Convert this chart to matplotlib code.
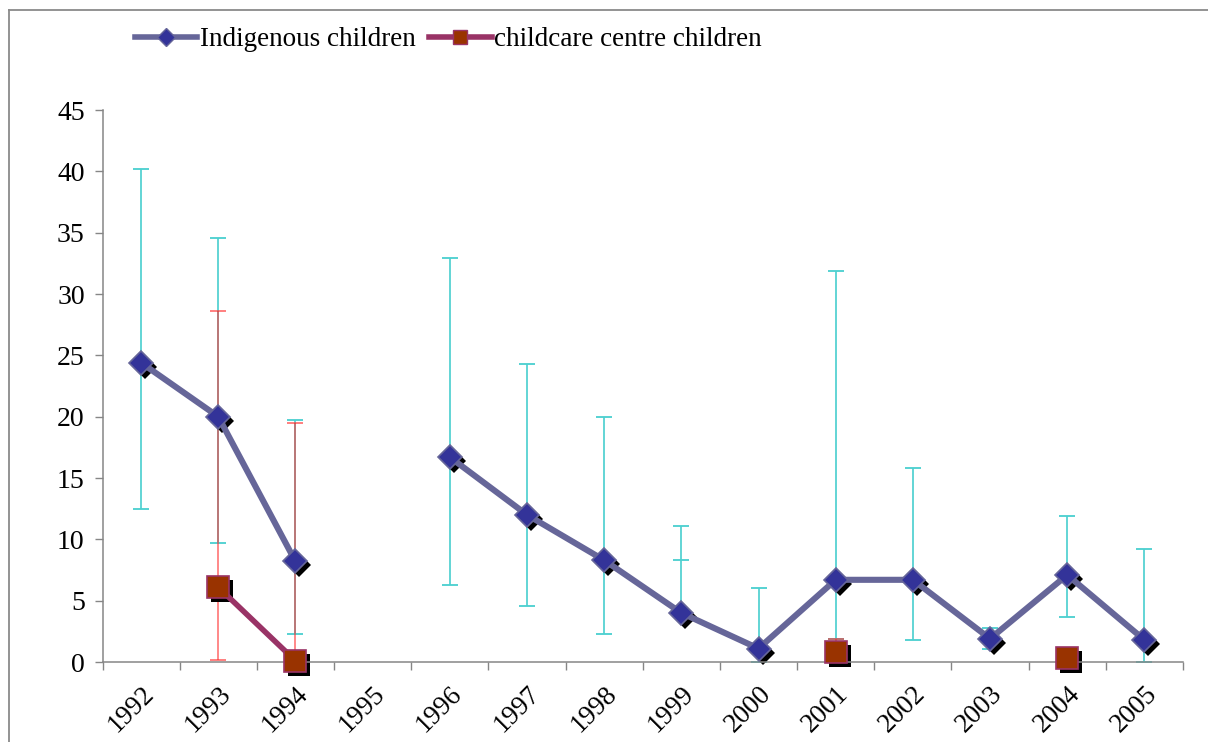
import numpy as np
import matplotlib
matplotlib.use("Agg")
import matplotlib.pyplot as plt
from matplotlib.lines import Line2D
from matplotlib.transforms import offset_copy

# ---- data -------------------------------------------------------------
years = ["1992", "1993", "1994", "1995", "1996", "1997", "1998",
         "1999", "2000", "2001", "2002", "2003", "2004", "2005"]

indigenous = [24.4, 20.0, 8.2, np.nan, 16.7, 12.0, 8.3,
              4.0, 1.1, 6.7, 6.7, 1.9, 7.1, 1.8]
indigenous_lo = [12.5, 9.7, 2.3, np.nan, 6.3, 4.6, 2.3,
                 8.3, 0.0, 1.9, 1.8, 1.1, 3.7, 0.0]
indigenous_hi = [40.2, 34.6, 19.7, np.nan, 32.9, 24.3, 20.0,
                 11.1, 6.0, 31.9, 15.8, 2.8, 11.9, 9.2]

childcare = [np.nan, 6.1, 0.1, np.nan, np.nan, np.nan, np.nan,
             np.nan, np.nan, 0.8, np.nan, np.nan, 0.3, np.nan]
childcare_lo = [np.nan, 0.2, 0.0, np.nan, np.nan, np.nan, np.nan,
                np.nan, np.nan, 0.8, np.nan, np.nan, np.nan, np.nan]
childcare_hi = [np.nan, 28.6, 19.5, np.nan, np.nan, np.nan, np.nan,
                np.nan, np.nan, 1.9, np.nan, np.nan, np.nan, np.nan]

# ---- style ------------------------------------------------------------
plt.rcParams["font.family"] = ["Liberation Serif", "DejaVu Serif"]
AXIS_GREY = "#868686"
IND_LINE, IND_FACE = "#666699", "#333399"
CC_LINE, CC_FACE = "#993366", "#993300"
CYAN = "#4dd0d0"
RED = "#ff2a2a"

W, H = 1208, 742
fig = plt.figure(figsize=(W / 100, H / 100), dpi=100)
ax = fig.add_axes([102.5 / W, 1 - 662 / H, (1183 - 102.5) / W, (662 - 110) / H])

x = np.arange(len(years))
ind = np.array(indigenous, dtype=float)
cc = np.array(childcare, dtype=float)


def draw_bars(vals, lo, hi, color, alpha, z):
    vals, lo, hi = (np.array(a, dtype=float) for a in (vals, lo, hi))
    ok = ~np.isnan(hi)
    bottom = np.fmin(lo, vals)
    top = np.fmax(hi, vals)
    ax.vlines(x[ok], bottom[ok], top[ok], colors=color, lw=1.3,
              alpha=alpha, zorder=z)
    for ends in (lo, hi):
        ax.plot(x[ok], ends[ok], ls="none", marker="_", ms=12, mew=1.4,
                color=color, alpha=alpha, zorder=z)


draw_bars(indigenous, indigenous_lo, indigenous_hi, CYAN, 0.95, 1)
draw_bars(childcare, childcare_lo, childcare_hi, RED, 0.6, 1.5)

shadow = offset_copy(ax.transData, fig=fig, x=4, y=-4, units="dots")

# marker shadows (under the connecting lines)
ax.plot(x, ind, ls="none", marker="D", ms=12.3, mfc="black", mec="black",
        mew=0, transform=shadow, zorder=2, clip_on=False)
ax.plot(x, cc, ls="none", marker="s", ms=16.5, mfc="black", mec="black",
        mew=0, transform=shadow, zorder=2, clip_on=False)

# connecting lines
ax.plot(x, ind, color=IND_LINE, lw=4.4, zorder=3, solid_capstyle="butt")
ax.plot(x, cc, color=CC_LINE, lw=4.0, zorder=3, solid_capstyle="butt")

# markers
ax.plot(x, ind, ls="none", marker="D", ms=12.3, mfc=IND_FACE, mec=IND_LINE,
        mew=1.2, zorder=4, clip_on=False)
ax.plot(x, cc, ls="none", marker="s", ms=16.5, mfc=CC_FACE, mec=CC_LINE,
        mew=1.2, zorder=4, clip_on=False)

# ---- axes -------------------------------------------------------------
ax.set_xlim(-0.5, len(years) - 0.5)
ax.set_ylim(0, 45)
ax.set_yticks(np.arange(0, 46, 5))
ax.tick_params(axis="y", direction="out", length=5.8, width=1.0,
               color=AXIS_GREY, labelsize=20, pad=7)

ax.set_xticks(x)
ax.set_xticklabels(years, rotation=45, ha="right", va="top",
                   rotation_mode="anchor")
ax.set_xticks(np.arange(-0.5, len(years), 1.0), minor=True)
ax.tick_params(axis="x", which="major", length=0, labelsize=19.5, pad=14)
ax.tick_params(axis="x", which="minor", direction="out", length=5.8,
               width=1.0, color=AXIS_GREY)

for side in ("top", "right"):
    ax.spines[side].set_visible(False)
for side in ("left", "bottom"):
    ax.spines[side].set_color(AXIS_GREY)
    ax.spines[side].set_linewidth(1.1)

# ---- legend -----------------------------------------------------------
handles = [
    Line2D([], [], color=IND_LINE, lw=4.0, marker="D", ms=9.5,
           mfc=IND_FACE, mec=IND_LINE, mew=1.0),
    Line2D([], [], color=CC_LINE, lw=4.0, marker="s", ms=10.5,
           mfc=CC_FACE, mec=CC_LINE, mew=1.0),
]
fig.legend(handles, ["Indigenous children", "childcare centre children"],
           loc="center left", bbox_to_anchor=(135 / W, 1 - 40 / H),
           ncol=2, frameon=False, fontsize=19.5, handlelength=2.3,
           handletextpad=0.1, columnspacing=0.5, borderpad=0,
           borderaxespad=0)

# ---- chart-area border (top and left edges) --------------------------
fig.add_artist(Line2D([9 / W, 1.0], [1 - 10 / H, 1 - 10 / H],
                      transform=fig.transFigure, color="#8a8a8a", lw=1.3))
fig.add_artist(Line2D([9 / W, 9 / W], [0.0, 1 - 10 / H],
                      transform=fig.transFigure, color="#8a8a8a", lw=1.3))

fig.savefig("out.png", dpi=100)
